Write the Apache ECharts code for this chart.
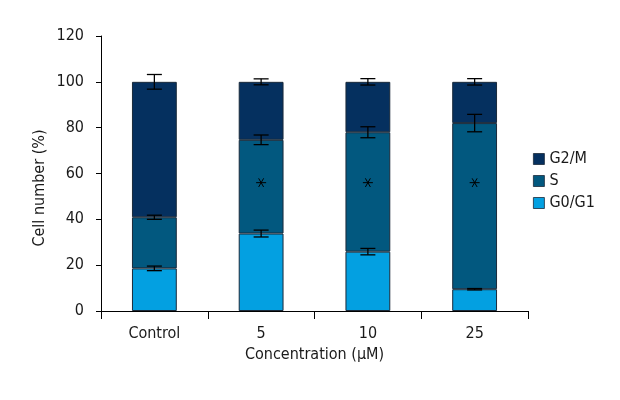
<!DOCTYPE html>
<html><head><meta charset="utf-8">
<script src="https://cdn.jsdelivr.net/npm/echarts@6/dist/echarts.min.js"></script>
<style>html,body{margin:0;padding:0;background:#fff}#c{width:620px;height:400px}</style>
</head><body><div id="c"></div>
<script>
var categories = ['Control', '5', '10', '25'];
var g0g1 = [18.6, 33.8, 25.9, 9.5];
var sPhase = [22.3, 40.9, 52.1, 72.5];
var g2m = [59.1, 25.3, 22.0, 18.0];
var g0g1Err = [1.0, 1.5, 1.4, 0.3];
var sErr = [0.9, 2.1, 2.4, 3.8];
var g2mErr = [3.2, 1.3, 1.4, 1.4];
var starY = [null, 56, 56, 56];
var yTicks = [0, 20, 40, 60, 80, 100, 120];

var FONT = '"Liberation Sans Narrow", "DejaVu Sans Condensed", sans-serif';
var colors = { g2m: '#05305f', s: '#02587f', g0: '#03a0e1' };

var errPoints = [];
for (var i = 0; i < categories.length; i++) {
  var t1 = g0g1[i], t2 = g0g1[i] + sPhase[i], t3 = t2 + g2m[i];
  errPoints.push([i, t1, g0g1Err[i]]);
  errPoints.push([i, t2, sErr[i]]);
  errPoints.push([i, t3, g2mErr[i]]);
}

var chart = echarts.init(document.getElementById('c'), null, {renderer: 'canvas'});
var barStyle = function (c) { return { color: c, borderColor: '#1a2a3a', borderWidth: 1 }; };
chart.setOption({
  animation: false,
  textStyle: { fontFamily: FONT },
  grid: { left: 101, right: 92, top: 36, bottom: 89 },
  graphic: [{
    type: 'text', x: 40, y: 188, rotation: Math.PI / 2,
    style: { text: 'Cell number (%)', font: '16px ' + FONT, fill: '#1a1a1a', align: 'center', verticalAlign: 'middle' }
  }],
  legend: {
    orient: 'vertical', left: 528, top: 146, itemWidth: 11, itemHeight: 11, itemGap: 6,
    icon: 'rect',
    itemStyle: { borderColor: '#1a2a3a', borderWidth: 0.8 },
    textStyle: { fontFamily: FONT, fontSize: 16, color: '#1a1a1a', padding: [0, 0, 0, 0] },
    data: ['G2/M', 'S', 'G0/G1']
  },
  xAxis: {
    type: 'category', data: categories,
    name: 'Concentration (μM)', nameLocation: 'middle', nameGap: 32,
    nameTextStyle: { fontFamily: FONT, fontSize: 16, color: '#1a1a1a' },
    axisLine: { lineStyle: { color: '#000', width: 1 } },
    axisTick: { show: true, length: 8, lineStyle: { color: '#000' } },
    axisLabel: { fontFamily: FONT, fontSize: 16, color: '#1a1a1a', margin: 15 }
  },
  yAxis: {
    type: 'value', min: 0, max: 120, interval: 20,
    splitLine: { show: false },
    axisLine: { show: true, lineStyle: { color: '#000', width: 1 } },
    axisTick: { show: true, length: 5, lineStyle: { color: '#000' } },
    axisLabel: { fontFamily: FONT, fontSize: 16, color: '#1a1a1a', margin: 17,
      formatter: function (v) { return yTicks.indexOf(v) >= 0 ? String(v) : ''; } }
  },
  series: [
    { name: 'G0/G1', type: 'bar', stack: 'a', data: g0g1, barWidth: '42%', itemStyle: barStyle(colors.g0) },
    { name: 'S', type: 'bar', stack: 'a', data: sPhase, barWidth: '42%', itemStyle: barStyle(colors.s) },
    { name: 'G2/M', type: 'bar', stack: 'a', data: g2m, barWidth: '42%', itemStyle: barStyle(colors.g2m) },
    {
      type: 'custom', name: 'err', data: errPoints, z: 10,
      renderItem: function (params, api) {
        var x = api.value(0), y = api.value(1), e = api.value(2);
        var hi = api.coord([x, y + e]), lo = api.coord([x, y - e]);
        var hw = 7.5;
        var st = { stroke: '#000', lineWidth: 1.3 };
        return { type: 'group', children: [
          { type: 'line', shape: { x1: hi[0], y1: hi[1], x2: lo[0], y2: lo[1] }, style: st },
          { type: 'line', shape: { x1: hi[0] - hw, y1: hi[1], x2: hi[0] + hw, y2: hi[1] }, style: st },
          { type: 'line', shape: { x1: lo[0] - hw, y1: lo[1], x2: lo[0] + hw, y2: lo[1] }, style: st }
        ]};
      }
    },
    {
      type: 'custom', name: 'star', z: 11,
      data: starY.map(function (v, i) { return v == null ? [i, '-'] : [i, v]; }),
      renderItem: function (params, api) {
        var v = api.value(1);
        if (isNaN(v)) return null;
        var p = api.coord([api.value(0), v]);
        var r = 5, kids = [];
        [0, 60, 120].forEach(function (deg) {
          var a = deg * Math.PI / 180, dx = r * Math.cos(a), dy = r * Math.sin(a);
          kids.push({ type: 'line', shape: { x1: p[0] - dx, y1: p[1] - dy, x2: p[0] + dx, y2: p[1] + dy },
            style: { stroke: '#000', lineWidth: 1 } });
        });
        return { type: 'group', children: kids };
      }
    }
  ]
});
</script></body></html>
